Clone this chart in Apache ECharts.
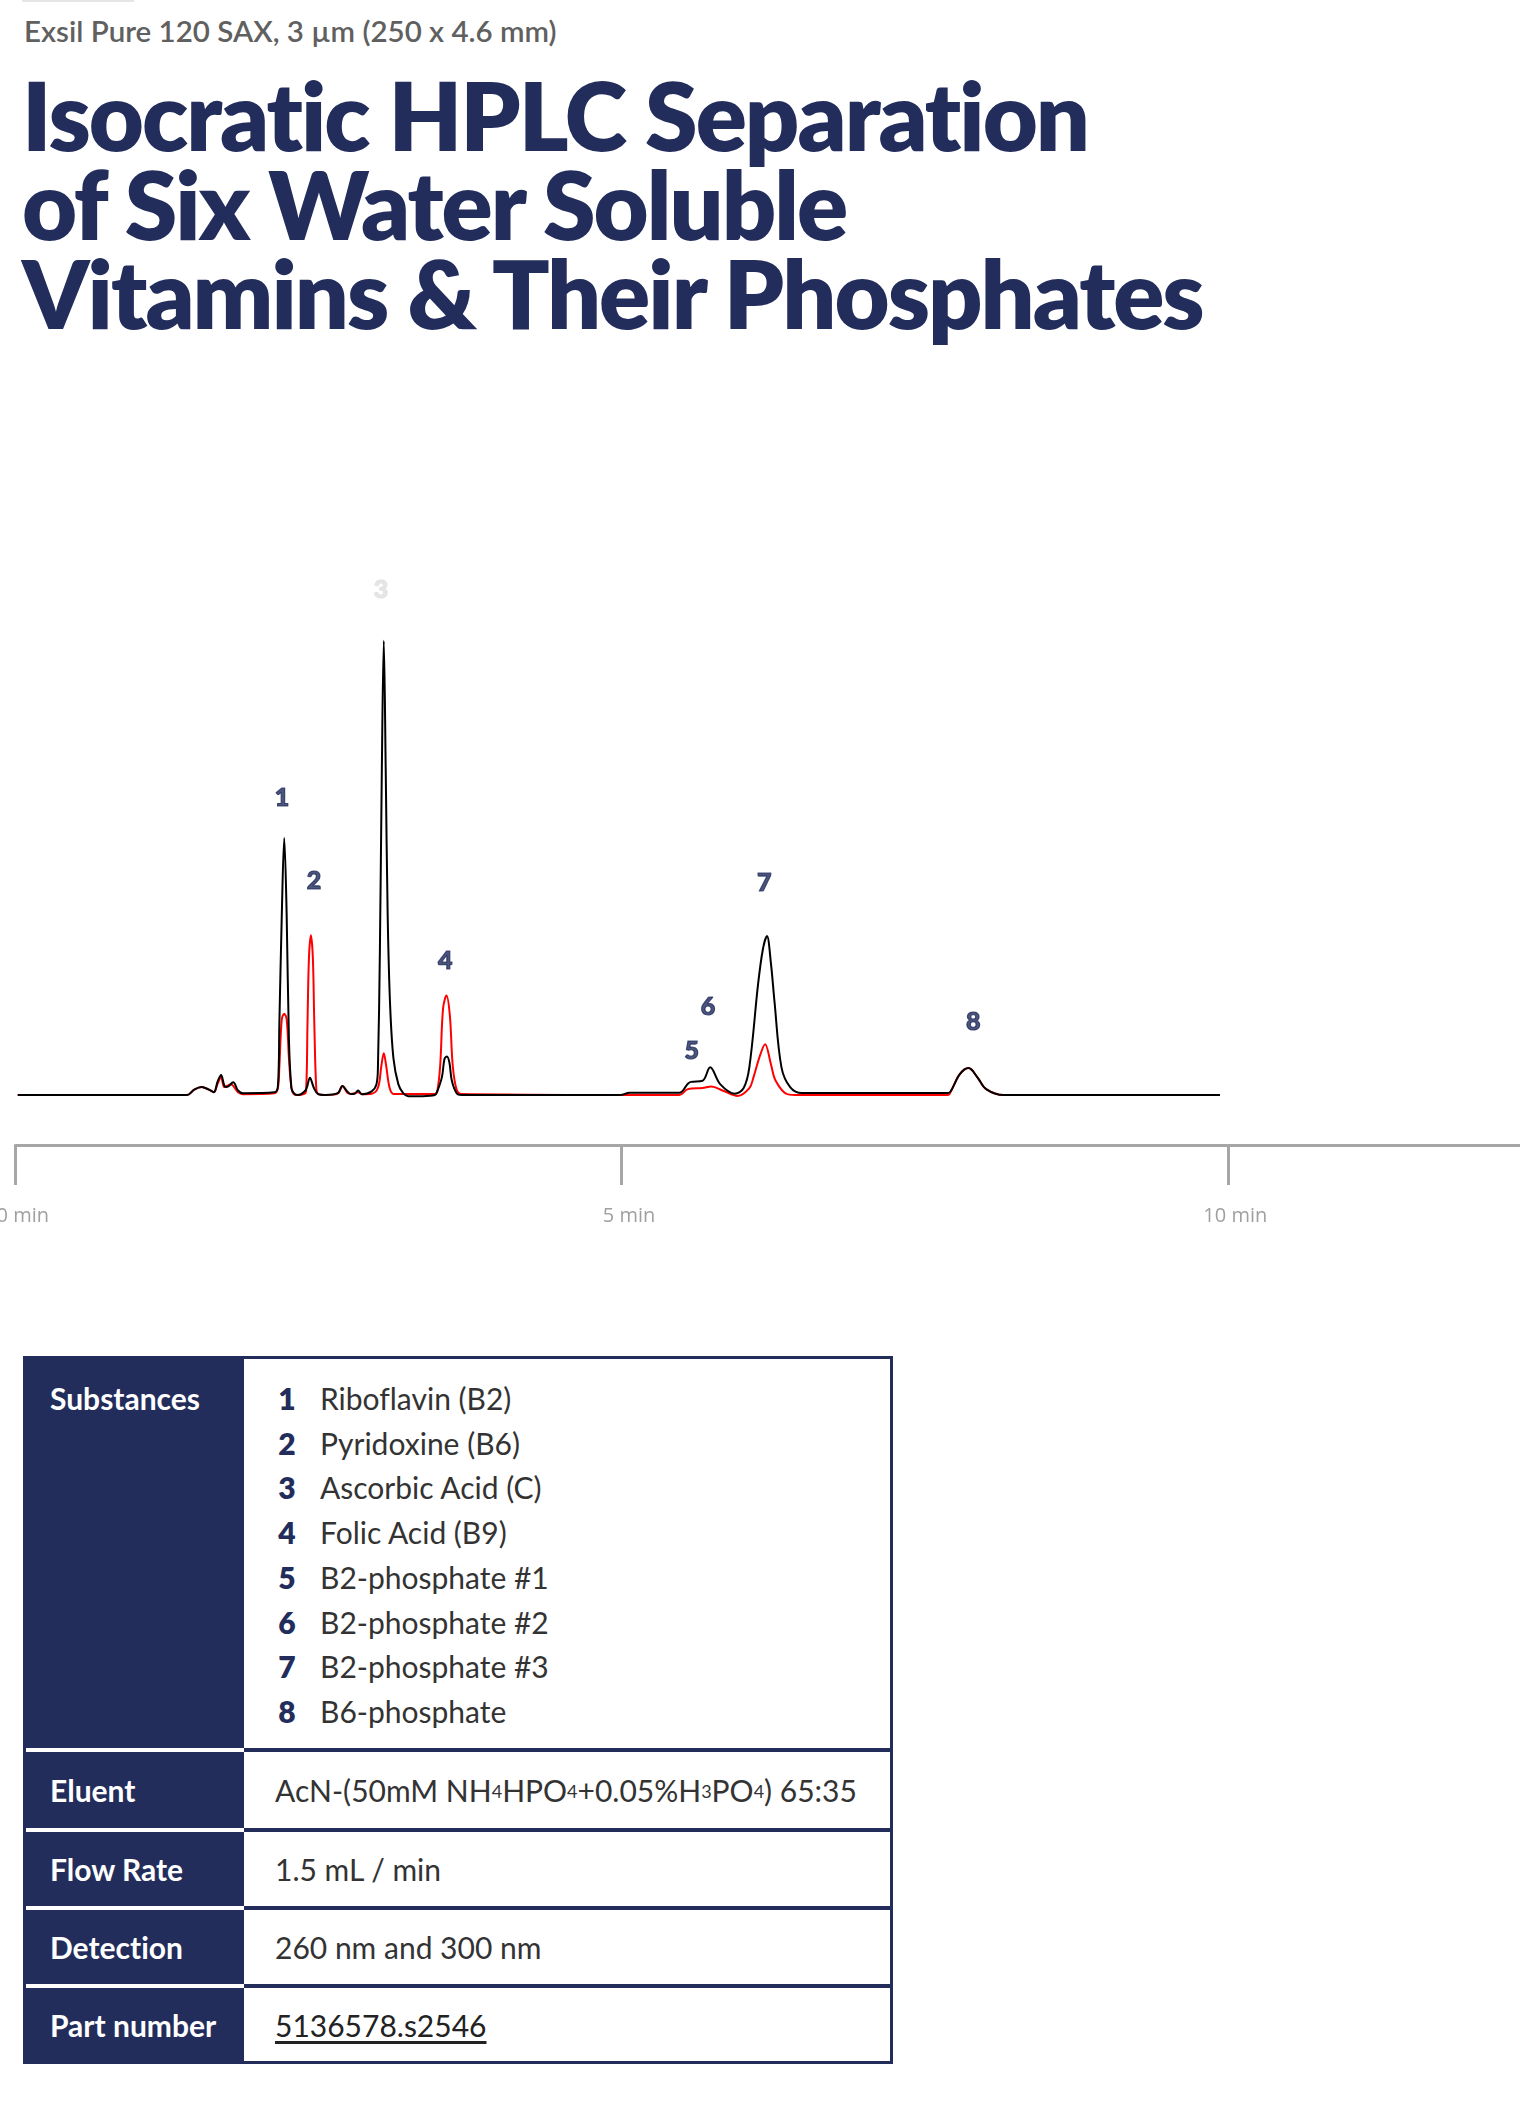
<!DOCTYPE html>
<html>
<head>
<meta charset="utf-8">
<title>Isocratic HPLC Separation of Six Water Soluble Vitamins</title>
<script src="https://cdn.jsdelivr.net/npm/echarts@6/dist/echarts.min.js"></script>
<style>
  html, body { margin: 0; padding: 0; background: #fff; }
  body { width: 1520px; height: 2102px; position: relative; overflow: hidden; font-family: Lato, sans-serif; font-variant-ligatures: none; }
  .topmark { position: absolute; left: 22px; top: 0; width: 112px; height: 2px; background: #e6e6e6; }
  .subtitle { position: absolute; left: 24px; top: 13px; font-size: 29.5px; font-weight: 600; color: #606060; line-height: 36px; white-space: nowrap; }
  .title { position: absolute; left: 22px; top: 70px; font-size: 95px; font-weight: 800; color: #222d5c; line-height: 89px; letter-spacing: -2px; white-space: nowrap; }
  #chart { position: absolute; left: 0; top: 500px; width: 1520px; height: 760px; }

  .spec { position: absolute; left: 23px; top: 1356px; width: 870px; border: 3px solid #222d5c; box-sizing: border-box; font-size: 30px; }
  .row { display: flex; }
  .row + .row .key { border-top: 4px solid #fff; }
  .row + .row .val { border-top: 4px solid #222d5c; }
  .key { width: 218px; flex: none; background: #222d5c; color: #fff; font-weight: 700; padding-left: 24px; box-sizing: border-box; display: flex; align-items: center; }
  .val { flex: 1; color: #333; padding-left: 31px; box-sizing: border-box; display: flex; align-items: center; }
  .row.first { height: 389px; }
  .row.first .key, .row.first .val { align-items: flex-start; padding-top: 17px; }
  .row.first .key { line-height: 45px; }
  .list { line-height: 44.7px; }
  .num { display: inline-block; width: 24px; text-align: center; margin-right: 21px; font-weight: 800; color: #222d5c; }
  .val sub { font-size: 60%; vertical-align: baseline; position: relative; top: 0.05em; }
  .part { text-decoration: underline; text-underline-offset: 4px; color: #222; }
</style>
</head>
<body>
<div class="topmark"></div>
<div class="subtitle">Exsil Pure 120 SAX, 3 µm (250 x 4.6 mm)</div>
<div class="title">Isocratic HPLC Separation<br>of Six Water Soluble<br>Vitamins &amp; Their Phosphates</div>

<div id="chart"></div>

<div class="spec">
  <div class="row first">
    <div class="key">Substances</div>
    <div class="val"><div class="list" id="substances"></div></div>
  </div>
  <div class="row" style="height:80px">
    <div class="key">Eluent</div>
    <div class="val">AcN-(50mM NH<sub>4</sub>HPO<sub>4</sub>+0.05%H<sub>3</sub>PO<sub>4</sub>) 65:35</div>
  </div>
  <div class="row" style="height:78px">
    <div class="key">Flow Rate</div>
    <div class="val">1.5 mL / min</div>
  </div>
  <div class="row" style="height:78px">
    <div class="key">Detection</div>
    <div class="val">260 nm and 300 nm</div>
  </div>
  <div class="row" style="height:77px">
    <div class="key">Part number</div>
    <div class="val"><span class="part">5136578.s2546</span></div>
  </div>
</div>

<script>
// chromatogram traces: time in min, signal relative to peak 3 (=100)
const blackTime = [0.02, 1.417, 1.476, 1.537, 1.597, 1.637, 1.669, 1.697, 1.725, 1.745, 1.797, 1.837, 1.877,
  2.137, 2.166, 2.178, 2.198, 2.218, 2.238, 2.257, 2.277, 2.297, 2.326, 2.358, 2.398, 2.430, 2.462, 2.498, 2.558,
  2.659, 2.698, 2.738, 2.767, 2.799, 2.827, 2.859, 2.939, 2.979, 2.991, 3.007, 3.023, 3.039, 3.055, 3.071, 3.091,
  3.119, 3.159, 3.199, 3.240, 3.359, 3.460, 3.480, 3.519, 3.540, 3.560, 3.580, 3.600, 3.640, 3.680,
  4.990, 5.065, 5.476, 5.547, 5.572, 5.668, 5.731, 5.813, 5.934, 6.006, 6.054, 6.126, 6.165, 6.199, 6.232, 6.261,
  6.319, 6.392, 6.488, 7.693, 7.718, 7.790, 7.862, 7.935, 8.007, 8.152, 9.936];
const blackSignal = [0, 0, 1.2, 1.75, 1.2, 0.64, 3.0, 4.4, 2.0, 1.75, 2.8, 1.0, 0.4,
  0.6, 2.0, 15.9, 39.8, 56.6, 39.8, 12.0, 1.6, 0.4, 0, 0.2, 1.2, 3.8, 1.6, 0.2, 0,
  0.4, 2.0, 0.8, 0.24, 0.3, 1.0, 0.2, 0.8, 2.4, 6.4, 31.9, 71.7, 100, 71.7, 39.8, 19.9,
  8.0, 2.4, 0.4, -0.24, -0.24, 0, 0.8, 4.0, 8.0, 8.5, 7.2, 3.2, 0.4, 0,
  0, 0.5, 0.5, 2.5, 2.9, 3.15, 6.1, 2.4, 0.3, 1.5, 6.1, 24.4, 32, 35.0, 29, 20.7,
  6.1, 1.7, 0.44, 0.44, 0.95, 4.6, 5.94, 3.9, 1.3, 0, 0];

const redTime = [0.02, 1.417, 1.476, 1.537, 1.597, 1.637, 1.669, 1.697, 1.725, 1.777, 1.837, 1.877,
  2.137, 2.166, 2.178, 2.198, 2.218, 2.238, 2.257, 2.277, 2.297, 2.326, 2.378, 2.398, 2.410, 2.422, 2.438, 2.454,
  2.466, 2.482, 2.498, 2.558, 2.659, 2.698, 2.738, 2.767, 2.827, 2.859, 2.939, 2.991, 3.019, 3.039, 3.059, 3.087,
  3.119, 3.460, 3.480, 3.504, 3.528, 3.556, 3.584, 3.608, 3.640, 3.680,
  5.476, 5.547, 5.668, 5.741, 5.837, 5.958, 6.054, 6.088, 6.137, 6.184, 6.232, 6.271, 6.367, 6.464,
  7.693, 7.718, 7.790, 7.862, 7.935, 8.007, 8.152, 9.936];
const redSignal = [0, 0, 1.2, 1.75, 1.2, 0.6, 2.5, 4.0, 1.75, 2.4, 0.6, 0.2,
  0.4, 1.6, 6.4, 16.7, 17.9, 16.7, 8.0, 1.6, 0.2, 0, 0.2, 0.8, 15.9, 30.3, 35.2, 30.3,
  15.9, 1.6, 0.24, 0, 0.3, 2.0, 0.5, 0.24, 0.6, 0.2, 0.3, 1.6, 6.4, 9.2, 6.4, 1.6,
  0.24, 0.24, 0.8, 6.4, 19.1, 21.9, 17.5, 6.4, 1.2, 0.24,
  0, 1.3, 1.54, 1.9, 0.95, -0.2, 1.5, 3.9, 8.3, 11.2, 6.8, 3.15, 0.2, 0,
  0, 0.95, 4.6, 5.94, 3.9, 1.3, 0, 0];

// peak numbers and where they sit (time, signal)
const peakNames = ['1', '2', '3', '4', '5', '6', '7', '8'];
const peakLabelTime = [2.199, 2.464, 3.017, 3.547, 5.580, 5.713, 6.177, 7.901];
const peakLabelSignal = [65.5, 47.2, 111.2, 29.5, 9.7, 19.5, 46.6, 16.2];

const tickValues = [0, 5, 10];

// substance list for the table
const substanceNames = ['Riboflavin (B2)', 'Pyridoxine (B6)', 'Ascorbic Acid (C)', 'Folic Acid (B9)',
  'B2-phosphate #1', 'B2-phosphate #2', 'B2-phosphate #3', 'B6-phosphate'];

document.getElementById('substances').innerHTML = substanceNames
  .map((n, i) => '<div><span class="num">' + (i + 1) + '</span>' + n + '</div>')
  .join('');

const zip = (xs, ys) => xs.map((x, i) => [x, ys[i]]);
const navy = '#1f2a5a';

const chart = echarts.init(document.getElementById('chart'));
chart.setOption({
  animation: false,
  grid: { left: 15.3, right: 0, top: 50, bottom: 115, outerBoundsMode: 'none', containLabel: false },
  xAxis: {
    type: 'value',
    min: 0,
    max: 12.41,
    axisLine: { onZero: false, lineStyle: { color: '#a6a6a6', width: 3 } },
    axisTick: { show: true, length: 40, customValues: tickValues, lineStyle: { color: '#a6a6a6', width: 3 } },
    axisLabel: {
      customValues: tickValues,
      formatter: v => v + ' min',
      color: '#a0a0a0',
      fontFamily: 'Open Sans',
      fontSize: 20,
      margin: 61,
      padding: [0, 0, 0, 15]
    },
    splitLine: { show: false }
  },
  yAxis: { type: 'value', min: -11, max: 120, show: false },
  series: [
    {
      name: '300 nm',
      type: 'line',
      data: zip(redTime, redSignal),
      symbol: 'none',
      smooth: 0.35,
      lineStyle: { color: '#ff0000', width: 2 }
    },
    {
      name: '260 nm',
      type: 'line',
      data: zip(blackTime, blackSignal),
      symbol: 'none',
      smooth: 0.35,
      lineStyle: { color: '#000', width: 2 }
    },
    {
      name: 'peaks',
      type: 'scatter',
      symbolSize: 1,
      itemStyle: { color: 'rgba(0,0,0,0)' },
      data: peakNames.map((n, i) => ({
        name: n,
        value: [peakLabelTime[i], peakLabelSignal[i]],
        label: n === '3' ? { color: '#e0e0e0', textBorderColor: '#e0e0e0' } : undefined
      })),
      label: {
        show: true,
        position: 'inside',
        formatter: '{b}',
        color: navy,
        fontFamily: 'Lato',
        fontWeight: 900,
        fontSize: 25,
        textBorderColor: navy,
        textBorderWidth: 1.2
      }
    }
  ]
});
</script>
</body>
</html>
